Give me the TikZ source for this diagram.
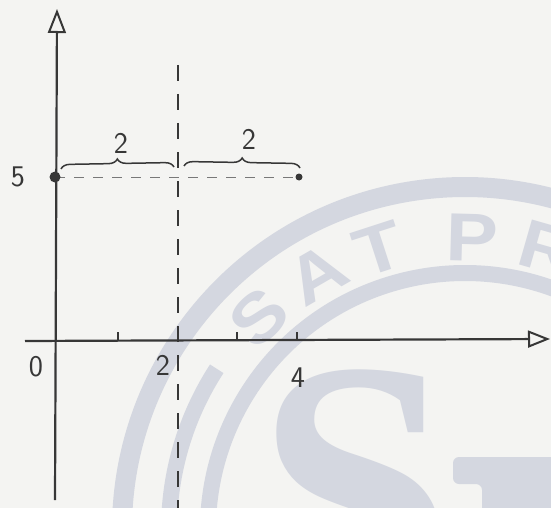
\documentclass[tikz,border=0pt]{standalone}
\usepackage{fontspec}
\usepackage{graphicx}
\newfontfamily\wmsans{Liberation Sans}
\newfontfamily\wmserif{Liberation Serif}
\usetikzlibrary{arrows.meta,decorations.pathreplacing}
\definecolor{paper}{RGB}{244,244,242}
\definecolor{wm}{RGB}{212,215,224}
\definecolor{ink}{RGB}{55,55,55}
\definecolor{faint}{RGB}{120,120,120}
\newcommand{\wmwide}[1]{\scalebox{1.15}[1]{#1}}
\tikzset{
  axisline/.style={draw=ink, line width=2.2pt},
  tickline/.style={draw=ink, line width=1.4pt},
  vdash/.style={draw=ink, line width=1.8pt, dash pattern=on 16pt off 13pt},
  hdash/.style={draw=faint, line width=1pt, dash pattern=on 10pt off 9pt},
  bracestyle/.style={draw=ink, line width=1.5pt, decorate, decoration={brace, amplitude=9pt}},
  lbl/.style={text=ink, inner sep=0pt, font=\fontsize{30}{32}\selectfont\sffamily},
  wmband/.style={draw=wm, line cap=butt},
  wmletter/.style={text=wm, inner sep=0pt, font=\fontsize{68}{70}\selectfont\wmsans\bfseries},
  dotstyle/.style={fill=ink, draw=none}
}
\begin{document}
\begin{tikzpicture}[x=1pt,y=-1pt]
\useasboundingbox (0,0) rectangle (551,508);
\fill[paper] (0,0) rectangle (551,508);
% watermark
\begin{scope}
\clip (0,0) rectangle (551,508);
\coordinate (wc) at (465,530);
\draw[wmband, line width=20pt] ([shift={(wc)}] -185:343) arc[start angle=-185, end angle=-50, radius=343];
\draw[wmband, line width=16pt] ([shift={(wc)}] -195:257) arc[start angle=-195, end angle=-50, radius=257];
\draw[wmband, line width=16pt] ([shift={(wc)}] -147:296) arc[start angle=-147, end angle=-195, radius=296];
\node[wmletter, rotate=44] (wS) at ([shift={(wc)}] -134:296) {\wmwide{S}};
\node[wmletter, rotate=30] (wA) at ([shift={(wc)}] -120:296) {\wmwide{A}};
\node[wmletter, rotate=18] (wT) at ([shift={(wc)}] -107:294) {\wmwide{T}};
\node[wmletter, rotate=-1.5] (wP) at ([shift={(wc)}] -88.5:292) {\wmwide{P}};
\node[wmletter, rotate=-16] (wR) at ([shift={(wc)}] -73.5:293) {\wmwide{R}};
\node[text=wm, inner sep=0pt, anchor=base west, font=\fontsize{356}{360}\selectfont\wmserif\bfseries] (bigS) at (256,605) {S};
\fill[wm, rounded corners=6pt] (453,457) -- (560,457) -- (560,520) -- (482,520) -- (482,484) -- (453,484) -- cycle;
\end{scope}
% coordinates
\coordinate (ybot) at (55,500);
\coordinate (ytop) at (57,9);
\coordinate (xleft) at (25,341);
\coordinate (xright) at (550,339);
\coordinate (dtop) at (178,65);
\coordinate (dbot) at (178,508);
% dashed lines
\draw[vdash] (dtop) -- (dbot);
% axes
\draw[axisline, -{Triangle[open, length=24pt, width=18pt, line width=2pt]}] (ybot) -- (ytop);
\draw[axisline, -{Triangle[open, length=22pt, width=17pt, line width=2pt]}] (xleft) -- (xright);
% ticks
\foreach \tx/\tn in {118/t1, 237/t3, 297/t4} {
  \coordinate (\tn a) at (\tx,340);
  \coordinate (\tn b) at (\tx,332);
  \draw[tickline] (\tn a) -- (\tn b);
}
% points
\coordinate (p1) at (55,177);
\coordinate (p2) at (299,177);
\draw[hdash] (p1) -- (p2);
\fill[dotstyle] (p1) circle[radius=5.5pt];
\fill[dotstyle] (p2) circle[radius=3.5pt];
% braces
\coordinate (b1s) at (61,169);
\coordinate (b1e) at (174,167);
\coordinate (b2s) at (184,166);
\coordinate (b2e) at (300,168);
\draw[bracestyle] (b1s) -- (b1e);
\draw[bracestyle] (b2s) -- (b2e);
% labels
\node[lbl] (l5) at (18,177) {5};
\node[lbl] (l0) at (36,367) {0};
\node[lbl] (l2) at (163,365) {2};
\node[lbl] (l4) at (298,378) {4};
\node[lbl] (bl1) at (121,143) {2};
\node[lbl] (bl2) at (249,139) {2};
\end{tikzpicture}
\end{document}
